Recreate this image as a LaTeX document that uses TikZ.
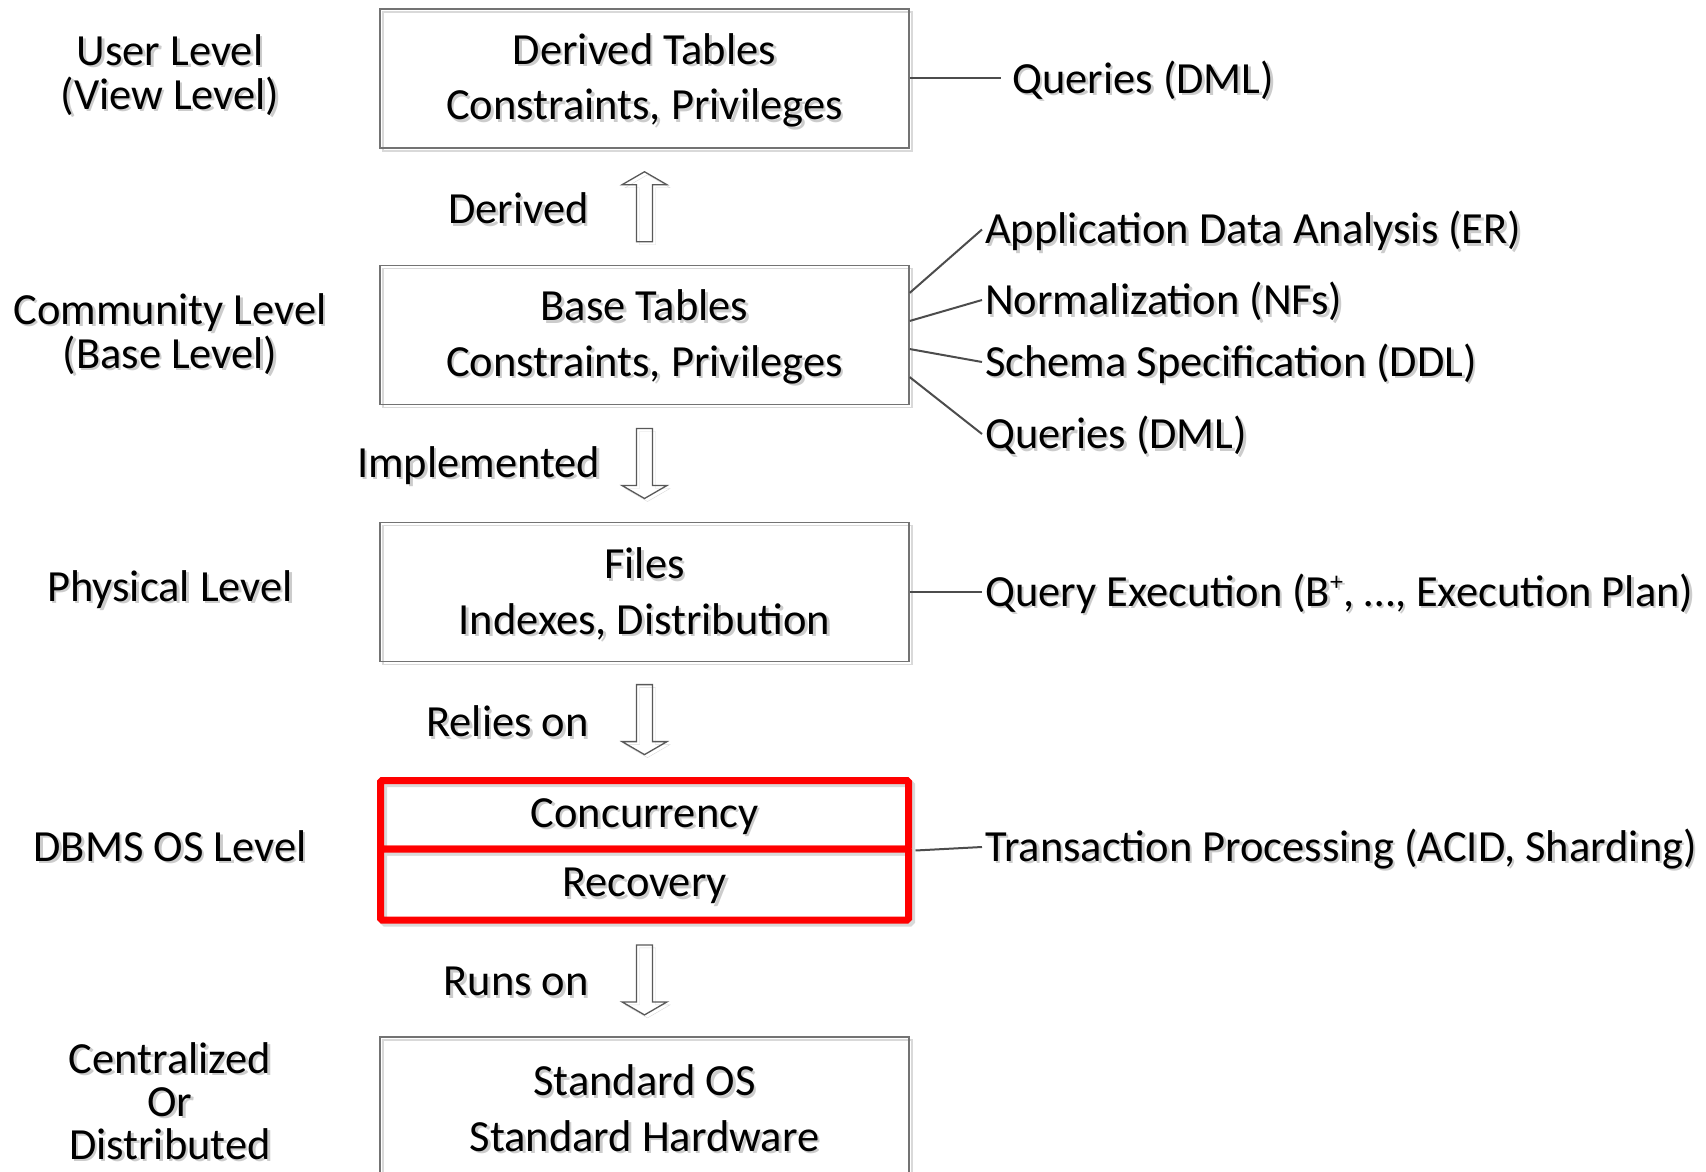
\documentclass[tikz,border=0pt]{standalone}
\usepackage{fontspec}
\setmainfont{Carlito}
\usetikzlibrary{calc}

\definecolor{txtshadow}{gray}{0.80}
\definecolor{edgegray}{gray}{0.45}
\definecolor{linkgray}{gray}{0.30}
\definecolor{strokeshadow}{gray}{0.85}
\definecolor{hotred}{RGB}{255,0,0}

% text with a soft grey copy offset down and to the right, set a little low
\newcommand\shd[1]{\leavevmode\raisebox{-3pt}[\height][\depth]{\rlap{\kern2.5pt\raisebox{-2.5pt}{\textcolor{txtshadow}{#1}}}#1}}
\newcommand\supplus{\raisebox{16pt}{\fontsize{26}{26}\selectfont +}}

\tikzset{
  strokeshade/.style={preaction={draw=strokeshadow, fill=none,
      transform canvas={shift={(3pt,-3pt)}}}},
  layerbox/.style={draw=edgegray, line width=1.4pt, strokeshade,
    minimum width=529pt, minimum height=139pt, align=center, inner sep=0pt,
    font=\fontsize{44.5}{55.5}\selectfont},
  redhalf/.style={draw=hotred, line width=7pt, strokeshade,
    minimum width=528pt, inner sep=0pt,
    rounded corners=1.5pt, font=\fontsize{44.5}{55.5}\selectfont},
  levellabel/.style={align=center, font=\fontsize{44.5}{44}\selectfont, inner sep=0pt},
  steplabel/.style={font=\fontsize{44.5}{50}\selectfont, inner sep=0pt, anchor=east},
  sidelabel/.style={font=\fontsize{44.5}{50}\selectfont, inner sep=3pt, anchor=west},
  link/.style={draw=linkgray, line width=2pt},
  arrowbody/.style={draw=black!65, line width=1.3pt, line join=miter, strokeshade},
  uparrow/.pic={\path[arrowbody] (-8,35) -- (-8,-22) -- (-22.5,-22) -- (0,-35)
      -- (22.5,-22) -- (8,-22) -- (8,35) -- cycle;},
  downarrow/.pic={\path[arrowbody] (-8,-35) -- (-8,22) -- (-22.5,22) -- (0,35)
      -- (22.5,22) -- (8,22) -- (8,-35) -- cycle;}
}

\begin{document}
\begin{tikzpicture}[x=1pt,y=-1pt]
\clip (0,0) rectangle (1706,1172);

% the layer boxes
\node[layerbox] (derived) at (644.5,78.5) {\shd{Derived Tables}\\\shd{Constraints, Privileges}};
\node[layerbox] (base) at (644.5,335) {\shd{Base Tables}\\\shd{Constraints, Privileges}};
\node[layerbox] (files) at (644.5,592) {\shd{Files}\\\shd{Indexes, Distribution}};
\node[redhalf,minimum height=68.5pt] (conc) at (644.5,814.75) {\shd{Concurrency}};
\node[redhalf,minimum height=71pt] (recov) at (644.5,884.5) {\shd{Recovery}};
\node[layerbox] (hw) at (644.5,1106.5) {\shd{Standard OS}\\\shd{Standard Hardware}};

% block arrows between the layers
\coordinate (g1) at ($(derived.south)!0.5!(base.north)$);
\coordinate (g2) at ($(base.south)!0.5!(files.north)$);
\coordinate (g3) at ($(files.south)!0.5!(conc.north)$);
\coordinate (g4) at ($(recov.south)!0.5!(hw.north)$);
\pic at (g1) {uparrow};
\pic at (g2) {downarrow};
\pic at (g3) {downarrow};
\pic at (g4) {downarrow};

\node[steplabel] (s1) at ($(g1)+(-55.5,0)$) {\shd{Derived}};
\node[steplabel] (s2) at ($(g2)+(-44,0)$) {\shd{Implemented}};
\node[steplabel] (s3) at ($(g3)+(-55.5,0)$) {\shd{Relies on}};
\node[steplabel] (s4) at ($(g4)+(-55.5,0)$) {\shd{Runs on}};

% level names on the left
\node[levellabel] (lv1) at (170,73) {\shd{User Level}\\\shd{(View Level)}};
\node[levellabel] (lv2) at (170,332) {\shd{Community Level}\\\shd{(Base Level)}};
\node[levellabel] (lv3) at (170,587.5) {\shd{Physical Level}};
\node[levellabel] (lv4) at (170,844) {\shd{DBMS OS Level}};
\node[levellabel,font=\fontsize{44.5}{43}\selectfont] (lv5) at (170,1099) {\shd{Centralized}\\\shd{Or}\\\shd{Distributed}};

% topics on the right
\node[sidelabel] (q1) at (1009,78.5) {\shd{Queries (DML)}};
\node[sidelabel] (app) at (982,229.5) {\shd{Application Data Analysis (ER)}};
\node[sidelabel] (norm) at (982,300) {\shd{Normalization (NFs)}};
\node[sidelabel] (schema) at (982,362) {\shd{Schema Specification (DDL)}};
\node[sidelabel] (q2) at (982,434) {\shd{Queries (DML)}};
\node[sidelabel] (qe) at (982,592) {\shd{Query Execution (B\supplus, …, Execution Plan)}};
\node[sidelabel] (tp) at (982,847) {\shd{Transaction Processing (ACID, Sharding)}};

% connectors
\draw[link,shorten >=8pt] (derived.east) -- (q1.west);
\draw[link] ($(base.north east)!0.2!(base.south east)$) -- (app.west);
\draw[link] ($(base.north east)!0.4!(base.south east)$) -- (norm.west);
\draw[link] ($(base.north east)!0.6!(base.south east)$) -- (schema.west);
\draw[link] ($(base.north east)!0.8!(base.south east)$) -- (q2.west);
\draw[link] (files.east) -- (qe.west);
\draw[link] ([xshift=3.5pt,yshift=2pt]conc.south east) -- (tp.west);
\end{tikzpicture}
\end{document}
